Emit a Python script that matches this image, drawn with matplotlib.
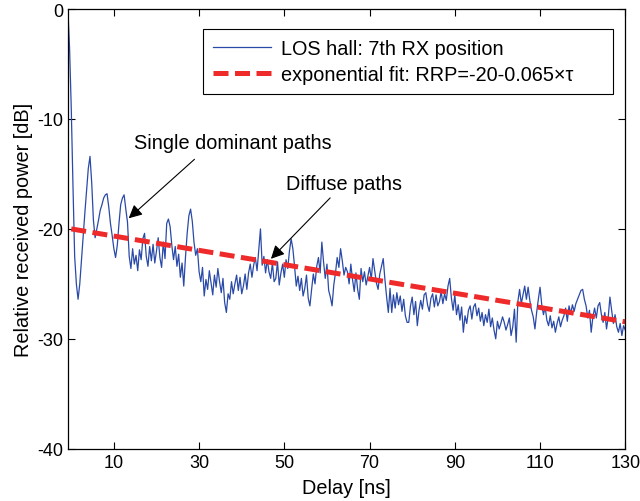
import numpy as np
import matplotlib
matplotlib.use("Agg")
import matplotlib.pyplot as plt

plt.rcParams['font.family'] = ['Liberation Sans', 'DejaVu Sans']
plt.rcParams['axes.unicode_minus'] = False

# measured power delay profile, sampled every 0.4 ns starting at -0.8 ns
DELAY_START = -0.8
DELAY_STEP = 0.4
power_db = [
    0.0, -3.5, -9.0, -16.0, -22.5, -25.0, -26.4, -25.0, -22.8, -20.5,
    -18.5, -16.5, -14.5, -13.4, -15.8, -19.2, -20.8, -20.0, -19.2, -18.3,
    -17.8, -17.2, -16.9, -16.8, -18.0, -19.5, -20.6, -21.8, -22.6, -21.5,
    -19.5, -17.8, -17.2, -16.9, -18.2, -19.4, -22.5, -23.6, -21.8, -23.2,
    -22.4, -23.8, -21.9, -22.8, -20.9, -20.4, -22.5, -23.4, -21.6, -22.9,
    -21.4, -23.1, -22.0, -20.8, -22.6, -23.5, -21.2, -22.7, -19.5, -19.1,
    -19.8, -21.5, -22.8, -21.6, -23.4, -22.3, -24.4, -23.1, -25.2, -22.6,
    -20.4, -18.8, -18.2, -19.3, -21.2, -22.4, -21.8, -23.9, -24.8, -23.5,
    -26.1, -24.6, -25.5, -23.8, -24.9, -26.0, -24.2, -25.3, -23.6, -24.8,
    -25.8, -24.5, -26.7, -27.6, -25.9, -26.4, -24.8, -25.9, -25.0, -24.2,
    -25.6, -24.4, -25.9, -25.2, -24.1, -25.5, -24.0, -23.2, -24.4, -23.3,
    -22.6, -23.8, -21.9, -20.0, -23.3, -22.5, -24.0, -22.8, -23.9, -24.5,
    -23.1, -24.8, -24.5, -23.0, -25.1, -24.0, -23.2, -24.4, -22.8, -23.6,
    -22.0, -20.9, -21.8, -23.4, -25.2, -24.3, -25.6, -24.5, -26.1, -25.4,
    -24.2, -26.3, -27.0, -25.5, -24.1, -25.0, -23.4, -22.6, -24.0, -21.2,
    -23.0, -24.5, -23.2, -25.6, -26.2, -27.0, -25.1, -24.0, -22.6, -23.5,
    -21.8, -22.9, -24.2, -23.5, -23.9, -25.0, -23.2, -24.6, -25.7, -24.0,
    -25.5, -26.4, -23.6, -24.8, -23.9, -25.1, -24.3, -23.5, -24.6, -22.7,
    -23.8, -24.9, -25.5, -24.1, -23.4, -22.7, -24.6, -26.2, -27.6, -25.4,
    -27.6, -26.0, -27.2, -25.8, -26.9, -26.1, -27.5, -26.4, -27.9, -28.5,
    -28.5, -27.0, -26.2, -27.8, -26.6, -28.8, -27.4, -26.5, -27.3, -26.0,
    -25.8, -26.9, -27.5, -26.3, -25.9, -27.1, -26.0, -27.0, -26.6, -25.7,
    -26.8, -25.9, -26.5, -25.2, -24.5, -26.3, -27.4, -26.0, -27.8, -26.9,
    -28.3, -27.1, -29.4, -27.9, -28.6, -27.4, -27.0, -28.2, -27.1, -26.8,
    -27.9, -27.2, -28.4, -27.6, -28.8, -27.8, -28.5, -27.3, -28.9, -28.1,
    -29.2, -30.0, -28.4, -29.1, -28.6, -28.0, -28.5, -29.2, -28.7, -28.1,
    -29.7, -28.9, -27.3, -30.3, -26.6, -25.5, -26.8, -26.0, -25.2, -26.4,
    -25.3, -26.5, -27.4, -28.0, -29.1, -27.6, -26.4, -25.3, -26.9, -27.8,
    -27.1, -28.3, -28.8, -27.9, -29.0, -28.4, -29.4, -28.6, -28.0, -28.9,
    -28.3, -27.9, -27.2, -28.4, -27.0, -27.7, -26.9, -27.5, -26.8, -26.4,
    -26.0, -25.6, -25.5, -26.4, -27.0, -28.1, -27.4, -29.4, -28.0, -27.2,
    -28.1, -27.0, -26.7, -27.8, -28.5, -27.6, -29.1, -28.0, -26.2, -27.4,
    -28.6, -27.8, -28.9, -29.4, -28.6, -29.7, -28.8, -29.2,
]

# exponential fit RRP = -20 - 0.065*tau
FIT_OFFSET = -20.0
FIT_SLOPE = -0.065
fit_delay = [0.0, 130.0]

x_ticks = [10, 30, 50, 70, 90, 110, 130]
y_ticks = [-40, -30, -20, -10, 0]

delay = DELAY_START + DELAY_STEP * np.arange(len(power_db))
fit_tau = np.array(fit_delay)
fit_rrp = FIT_OFFSET + FIT_SLOPE * fit_tau

fig = plt.figure(figsize=(6.4, 5.02), dpi=100)
ax = fig.add_axes([0.106, 0.104, 0.871, 0.876])

ax.plot(delay, power_db, color='#2a4aa8', lw=0.9, label='LOS hall: 7th RX position')
ax.plot(fit_tau, fit_rrp, color='#ee2a2a', lw=3.6, dashes=(3.0, 1.3),
        label='exponential fit: RRP=-20-0.065\u00d7\u03c4')

ax.set_xlim(DELAY_START, 130)
ax.set_ylim(-40, 0)
ax.set_xticks(x_ticks)
ax.set_yticks(y_ticks)
ax.tick_params(direction='in', top=True, right=True, labelsize=13, length=5, width=0.8)
for s in ax.spines.values():
    s.set_linewidth(0.9)

ax.set_xlabel('Delay [ns]', fontsize=14.3, labelpad=5)
ax.set_ylabel('Relative received power [dB]', fontsize=14.3, labelpad=3)

# annotations
arrow = dict(arrowstyle='-|>', color='black', lw=0.8, mutation_scale=20)
ax.annotate('', xy=(13.0, -19.2), xytext=(29.4, -13.5), arrowprops=arrow)
ax.text(37.9, -12.1, 'Single dominant paths', fontsize=14.3, ha='center', va='center')
ax.annotate('', xy=(46.4, -22.9), xytext=(61.2, -17.0), arrowprops=arrow)
ax.text(64.0, -15.9, 'Diffuse paths', fontsize=14.3, ha='center', va='center')

# legend box stretched to the width seen in the reference
leg = ax.legend(loc='upper right', bbox_to_anchor=(0.2426, 0.75, 0.7354, 0.205),
                mode='expand', borderaxespad=0, fontsize=14.3, handlelength=2.9,
                fancybox=False, edgecolor='black', framealpha=1, labelspacing=0.35,
                handletextpad=0.5, borderpad=0.5)
leg.get_frame().set_linewidth(0.8)

fig.savefig('out.png', dpi=100, facecolor='white')
